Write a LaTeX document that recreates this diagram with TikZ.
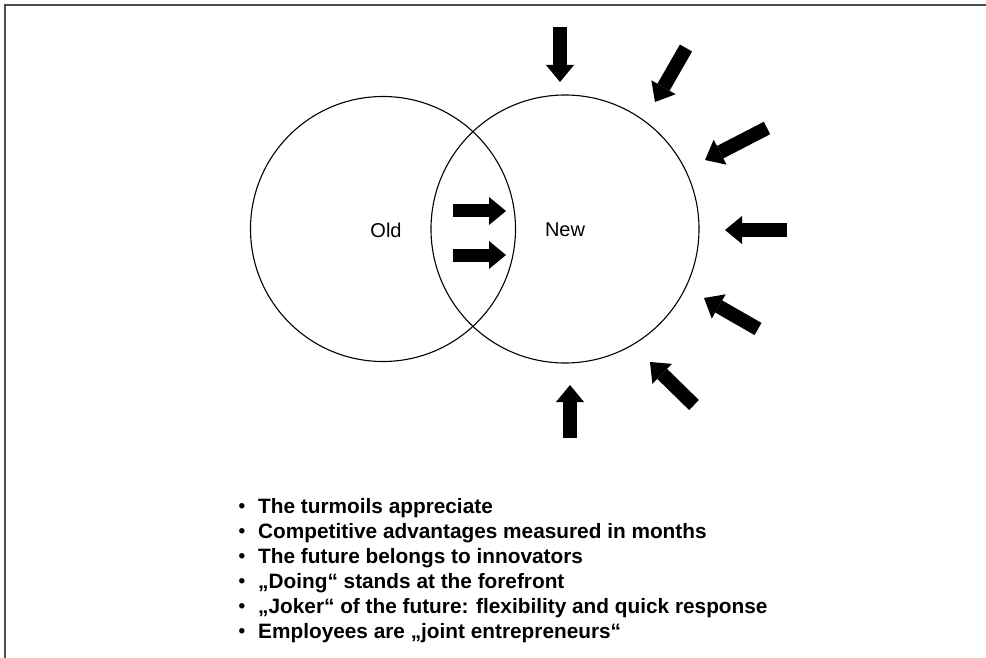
\documentclass[tikz,border=0pt]{standalone}
\usepackage{fontspec}
\setmainfont{Liberation Sans}
\usetikzlibrary{arrows.meta}
\begin{document}
\begin{tikzpicture}[x=1pt,y=-1pt,
  frame/.style={draw=black!70,line width=1.6pt},
  ring/.style={draw=black,line width=1.1pt},
  label/.style={font=\fontsize{20}{22}\selectfont,inner sep=0pt},
  blockarrow/.style={draw=black,line width=14pt,
    -{Triangle[width=28pt,length=17pt,line width=0pt]}},
  bulletline/.style={anchor=base west,inner sep=0pt,
    font=\bfseries\fontsize{20.8}{25}\selectfont},
  bulletdot/.style={anchor=base,inner sep=0pt,
    font=\bfseries\fontsize{19}{19}\selectfont}]
  \useasboundingbox (0,0) rectangle (986,658);
  \fill[white] (0,0) rectangle (986,658);

  % page frame (top and left edges)
  \coordinate (fbl) at (5,658);
  \coordinate (ftl) at (5,5);
  \coordinate (ftr) at (986,5);
  \draw[frame] (fbl) -- (ftl) -- (ftr);

  % the two overlapping circles
  \node[ring,circle,minimum size=265pt,inner sep=0pt] (old) at (383,229) {};
  \node[ring,circle,minimum size=268pt,inner sep=0pt] (new) at (565,229) {};
  \node[label] (oldlbl) at (386,230) {Old};
  \node[label] (newlbl) at (565,230) {New};

  % arrows inside the overlap, pointing from old to new
  \coordinate (a1t) at (453,211); \coordinate (a1h) at (506,211);
  \coordinate (a2t) at (453,255); \coordinate (a2h) at (506,255);
  \draw[blockarrow,line width=13pt] (a1t) -- (a1h);
  \draw[blockarrow,line width=13pt] (a2t) -- (a2h);

  % arrows pressing on the new circle from outside
  \coordinate (b1t) at (560,27);  \coordinate (b1h) at (560,82);
  \coordinate (b2t) at (686,48);  \coordinate (b2h) at (655,102);
  \coordinate (b3t) at (767,128); \coordinate (b3h) at (705,160);
  \coordinate (b4t) at (787,230); \coordinate (b4h) at (725,230);
  \coordinate (b5t) at (758,329); \coordinate (b5h) at (704,298);
  \coordinate (b6t) at (694,405); \coordinate (b6h) at (650,362);
  \coordinate (b7t) at (570,438); \coordinate (b7h) at (570,385);
  \foreach \i in {1,...,7}
    \draw[blockarrow] (b\i t) -- (b\i h);

  % bullet list
  \foreach \i/\txt in {
      1/The turmoils appreciate,
      2/Competitive advantages measured in months,
      3/The future belongs to innovators,
      4/„Doing“ stands at the forefront,
      5/„Joker“ of the future: flexibility and quick response,
      6/Employees are „joint entrepreneurs“} {
    \node[bulletdot] (dot\i) at (242,{513+25*(\i-1)-1}) {•};
    \node[bulletline] (line\i) at (258,{513+25*(\i-1)}) {\txt};
  }
\end{tikzpicture}
\end{document}
